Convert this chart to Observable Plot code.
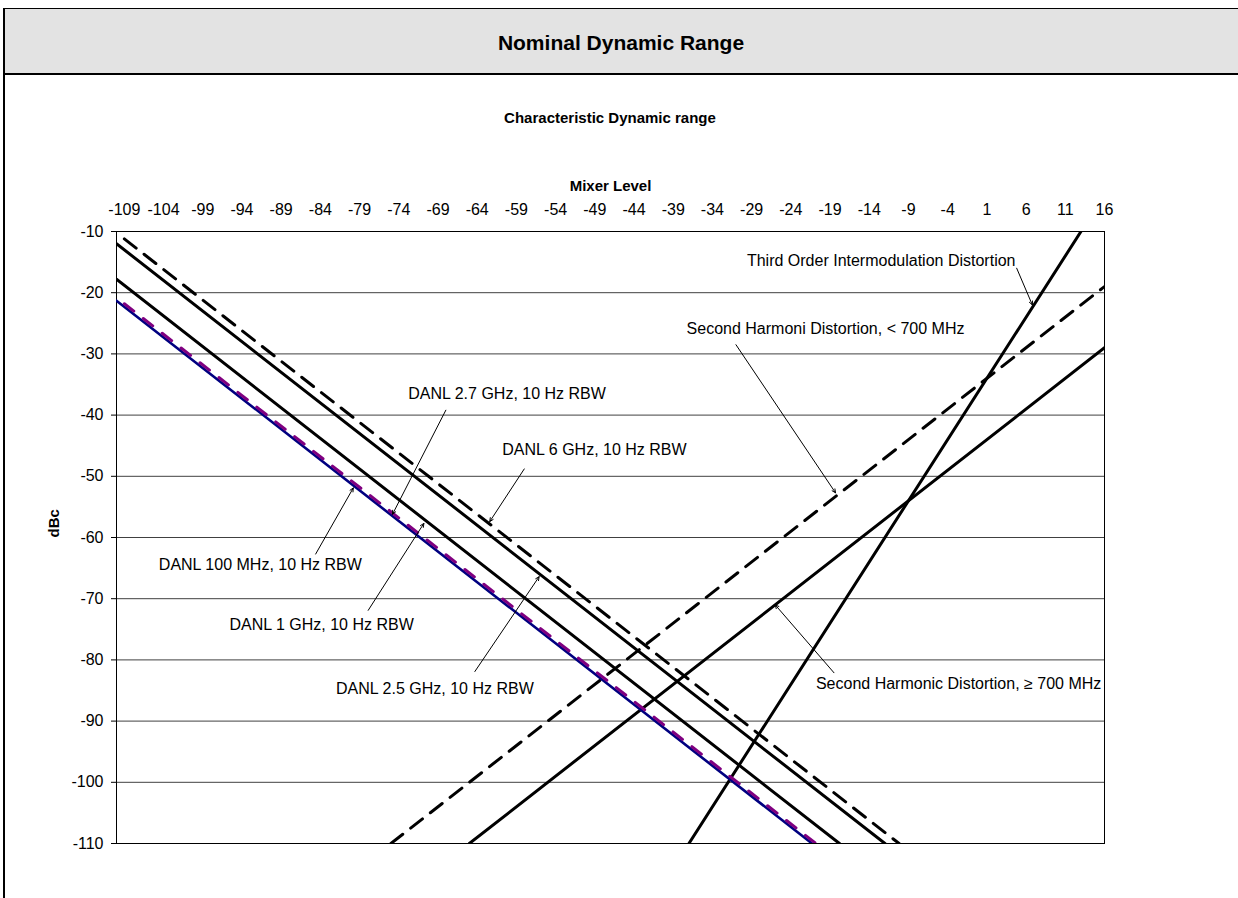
<!DOCTYPE html>
<html>
<head>
<meta charset="utf-8">
<script src="https://cdn.jsdelivr.net/npm/d3@7"></script>
<script src="https://cdn.jsdelivr.net/npm/@observablehq/plot@0.6"></script>
<style>
  body { margin: 0; background: #fff; font-family: "Liberation Sans", Arial, sans-serif; }
  #page { position: relative; width: 1238px; height: 898px; overflow: hidden; background: #fff; }
  #header { position: absolute; left: 4px; right: 0; top: 8px; height: 64px; background: #e3e3e3;
            border-top: 1px solid #000; border-bottom: 2px solid #000; }
  #title { position: absolute; left: 0; right: 0; top: 22px; text-align: center; font-weight: bold; font-size: 21px; line-height: 24px; }
  #leftborder { position: absolute; left: 3px; top: 8px; width: 2px; bottom: 0; background: #000; }
  #subtitle { position: absolute; top: 109px; left: 116px; width: 988px; text-align: center; font-weight: bold; font-size: 15px; line-height: 18px; }
  #chart { position: absolute; left: 0; top: 140px; }
</style>
</head>
<body>
<div id="page">
  <div id="header"><div id="title">Nominal Dynamic Range</div></div>
  <div id="leftborder"></div>
  <div id="subtitle">Characteristic Dynamic range</div>
  <div id="chart"></div>
</div>
<script>
// ---- Data ----
const xTicks = [-109, -104, -99, -94, -89, -84, -79, -74, -69, -64, -59, -54, -49, -44, -39, -34, -29, -24, -19, -14, -9, -4, 1, 6, 11, 16];
const yTicks = [-10, -20, -30, -40, -50, -60, -70, -80, -90, -100, -110];

const seriesNames = ["DANL 6 GHz", "DANL 2.5 GHz", "DANL 1 GHz", "SHD < 700 MHz", "SHD >= 700 MHz", "TOI", "DANL 100 MHz", "DANL 2.7 GHz"];
const startLevel = [-109, -110, -110, -75, -65, -37, -110, -109];
const startDbc   = [-11.2, -12.0, -17.8, -110, -110, -110, -21.3, -21.8];
const endLevel   = [-10.2, -12.0, -17.8, 16, 16, 13, -21.3, -20.8];
const endDbc     = [-110, -110, -110, -19, -29, -10, -110, -110];

const noteLabels = [
  "DANL 2.7 GHz, 10 Hz RBW",
  "DANL 6 GHz, 10 Hz RBW",
  "DANL 100 MHz, 10 Hz RBW",
  "DANL 1 GHz, 10 Hz RBW",
  "DANL 2.5 GHz, 10 Hz RBW",
  "Third Order Intermodulation Distortion",
  "Second Harmoni Distortion, < 700 MHz",
  "Second Harmonic Distortion, \u2265 700 MHz"
];
const noteTextLevel = [-72.8, -60.8, -104.6, -95.6, -82.0, -29.6, -37.3, -20.8];
const noteTextDbc   = [-36.5, -45.7, -64.5, -74.3, -84.8, -14.8, -25.9, -83.9];
const arrowFromLevel = [-68.0, -58.0, -84.6, -77.9, -64.3, 4.8, -31.0, -18.5];
const arrowFromDbc   = [-39.2, -48.8, -62.7, -71.9, -81.9, -16.0, -28.5, -82.1];
const arrowToLevel   = [-74.8, -62.4, -79.8, -70.8, -56.1, 6.8, -18.3, -26.0];
const arrowToDbc     = [-56.2, -57.4, -51.9, -57.7, -66.4, -22.0, -52.7, -71.0];

// ---- Build tables ----
const rows = [];
seriesNames.forEach((s, i) => {
  rows.push({series: s, level: startLevel[i], dbc: startDbc[i]});
  rows.push({series: s, level: endLevel[i], dbc: endDbc[i]});
});
const notes = noteLabels.map((t, i) => ({
  text: t, tx: noteTextLevel[i], ty: noteTextDbc[i],
  x1: arrowFromLevel[i], y1: arrowFromDbc[i], x2: arrowToLevel[i], y2: arrowToDbc[i]
}));

const styles = {
  "DANL 6 GHz":      {stroke: "#000", dash: "15,10", width: 3},
  "DANL 2.5 GHz":    {stroke: "#000", dash: null, width: 3},
  "DANL 1 GHz":      {stroke: "#000", dash: null, width: 3},
  "SHD < 700 MHz":   {stroke: "#000", dash: "15,10", width: 3},
  "SHD >= 700 MHz":  {stroke: "#000", dash: null, width: 3},
  "TOI":             {stroke: "#000", dash: null, width: 3},
  "DANL 100 MHz":    {stroke: "#000080", dash: null, width: 2.6},
  "DANL 2.7 GHz":    {stroke: "#800080", dash: "12,12", width: 3}
};

const lineMarks = seriesNames.map(s => Plot.line(rows.filter(r => r.series === s), {
  x: "level", y: "dbc", stroke: styles[s].stroke, strokeWidth: styles[s].width,
  strokeDasharray: styles[s].dash || undefined, clip: true
}));

const chart = Plot.plot({
  width: 1238,
  height: 758,
  marginLeft: 116,
  marginRight: 134,
  marginTop: 91,
  marginBottom: 55,
  style: {fontFamily: "'Liberation Sans', Arial, sans-serif", fontSize: "16px", background: "transparent", color: "#000"},
  x: {domain: [-110, 16], axis: null},
  y: {domain: [-110, -10], axis: null},
  marks: [
    Plot.gridY(yTicks, {stroke: "#404040", strokeOpacity: 1, strokeWidth: 1}),
    Plot.frame({stroke: "#000", strokeWidth: 1}),
    Plot.axisX({anchor: "top", ticks: xTicks, tickSize: 0, tickPadding: 17, label: null, tickFormat: d => String(d), fontSize: 16}),
    Plot.axisY({anchor: "left", ticks: yTicks, tickSize: 5, tickPadding: 8, label: null, tickFormat: d => String(d), fontSize: 16}),
    Plot.text(["Mixer Level"], {text: d => d, frameAnchor: "top", dy: -51, fontWeight: "bold", fontSize: 15}),
    Plot.text(["dBc"], {text: d => d, frameAnchor: "left", dx: -62, rotate: -90, fontWeight: "bold", fontSize: 15}),
    ...lineMarks,
    Plot.arrow(notes, {x1: "x1", y1: "y1", x2: "x2", y2: "y2", stroke: "#000", strokeWidth: 1, headLength: 6, headAngle: 50}),
    Plot.text(notes, {x: "tx", y: "ty", text: "text", textAnchor: "start", fontSize: 16, fill: "#000"})
  ]
});
document.getElementById("chart").appendChild(chart);
</script>
</body>
</html>
